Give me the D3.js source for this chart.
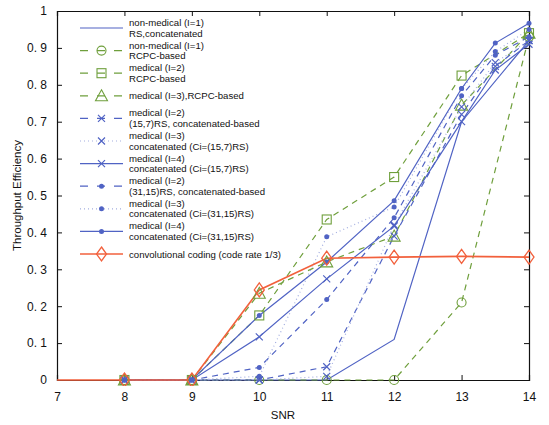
<!DOCTYPE html>
<html>
<head>
<meta charset="utf-8">
<script src="https://cdn.jsdelivr.net/npm/d3@7"></script>
<style>
  body { margin: 0; background: #fff; }
  text { font-family: "Liberation Sans", Arial, sans-serif; fill: #111; }
</style>
</head>
<body>
<div id="chart"></div>
<script>
// data
const xTicks = [7, 8, 9, 10, 11, 12, 13, 14];
const yTicks = [0, 0.1, 0.2, 0.3, 0.4, 0.5, 0.6, 0.7, 0.8, 0.9, 1];
const yTickLabels = ["0", "0. 1", "0. 2", "0. 3", "0. 4", "0. 5", "0. 6", "0. 7", "0. 8", "0. 9", "1"];

const snrA = [8, 9, 10, 11, 12, 13, 14];
const snrB = [8, 9, 10, 11, 12, 13, 13.5, 14];
const snrConv = [7, 8, 9, 10, 11, 12, 13, 14];

const nonMedRS = [0, 0, 0, 0, 0.11, 0.70, 0.92];
const nonMedRCPC = [0, 0, 0, 0, 0, 0.21, 0.93];
const medI2RCPC = [0, 0, 0.175, 0.435, 0.55, 0.825, 0.94];
const medI3RCPC = [0, 0, 0.235, 0.32, 0.39, 0.745, 0.94];
const medI2RS157 = [0, 0, 0, 0.036, 0.39, 0.72, 0.85, 0.92];
const medI3RS157 = [0, 0, 0, 0.01, 0.42, 0.74, 0.86, 0.92];
const medI4RS157 = [0, 0, 0.117, 0.274, 0.417, 0.70, 0.84, 0.91];
const medI2RS3115 = [0, 0, 0.034, 0.218, 0.44, 0.77, 0.88, 0.93];
const medI3RS3115 = [0, 0, 0.01, 0.388, 0.469, 0.79, 0.89, 0.95];
const medI4RS3115 = [0, 0, 0.175, 0.32, 0.486, 0.79, 0.913, 0.967];
const convCoding = [0, 0, 0, 0.244, 0.33, 0.333, 0.335, 0.333];

const legendLabels = [
  ["non-medical (I=1)", "RS,concatenated"],
  ["non-medical (I=1)", "RCPC-based"],
  ["medical (I=2)", "RCPC-based"],
  ["medical (I=3),RCPC-based"],
  ["medical (I=2)", "(15,7)RS, concatenated-based"],
  ["medical (I=3)", "concatenated (Ci=(15,7)RS)"],
  ["medical (I=4)", "concatenated (Ci=(15,7)RS)"],
  ["medical (I=2)", "(31,15)RS, concatenated-based"],
  ["medical (I=3)", "concatenated (Ci=(31,15)RS)"],
  ["medical (I=4)", "concatenated (Ci=(31,15)RS)"],
  ["convolutional coding (code rate 1/3)"]
];

const blue = "#5063c4", green = "#6f9f3c", orange = "#f2603c";

const series = [
  {x: snrA, y: nonMedRS, color: blue, dash: null, marker: null},
  {x: snrA, y: nonMedRCPC, color: green, dash: "6,5", marker: "circle"},
  {x: snrA, y: medI2RCPC, color: green, dash: "6,5", marker: "square"},
  {x: snrA, y: medI3RCPC, color: green, dash: "6,5", marker: "triangle"},
  {x: snrB, y: medI2RS157, color: blue, dash: "6,5", marker: "x"},
  {x: snrB, y: medI3RS157, color: "#a3aee0", dash: "1,3", marker: "x"},
  {x: snrB, y: medI4RS157, color: blue, dash: null, marker: "x"},
  {x: snrB, y: medI2RS3115, color: blue, dash: "6,5", marker: "dot"},
  {x: snrB, y: medI3RS3115, color: "#a3aee0", dash: "1,3", marker: "dot"},
  {x: snrB, y: medI4RS3115, color: blue, dash: null, marker: "dot"},
  {x: snrConv, y: convCoding, color: orange, dash: null, marker: "diamond", width: 1.6}
];

const W = 549, H = 425;
const margin = {top: 11, right: 20, bottom: 45, left: 57};

const svg = d3.select("#chart").append("svg")
    .attr("width", W)
    .attr("height", H);

const x = d3.scaleLinear().domain([7, 14]).range([margin.left, W - margin.right]);
const y = d3.scaleLinear().domain([0, 1]).range([H - margin.bottom, margin.top]);

svg.append("clipPath").attr("id", "plotclip")
  .append("rect")
    .attr("x", x(7)).attr("y", y(1) - 6)
    .attr("width", x(14) - x(7) + 8).attr("height", y(0) - y(1) + 12);

// axes, matlab style ticks pointing inward
const axB = svg.append("g").attr("transform", `translate(0,${y(0)})`)
    .call(d3.axisBottom(x).tickValues(xTicks).tickSize(-5).tickPadding(12).tickFormat(d3.format("d")));
const axT = svg.append("g").attr("transform", `translate(0,${y(1)})`)
    .call(d3.axisTop(x).tickValues(xTicks).tickSize(-5).tickFormat(""));
const axL = svg.append("g").attr("transform", `translate(${x(7)},0)`)
    .call(d3.axisLeft(y).tickValues(yTicks).tickSize(-5).tickPadding(10)
      .tickFormat((d, i) => yTickLabels[i]));
const axR = svg.append("g").attr("transform", `translate(${x(14)},0)`)
    .call(d3.axisRight(y).tickValues(yTicks).tickSize(-5).tickFormat(""));

[axB, axT, axL, axR].forEach(a => {
  a.select(".domain").attr("stroke", "#111").attr("stroke-width", 1.2);
  a.selectAll(".tick line").attr("stroke", "#111");
  a.selectAll("text").style("font-size", "12px").style("font-family", "'Liberation Sans Narrow', 'Liberation Sans', sans-serif").attr("fill", "#111");
});

svg.append("text")
    .attr("transform", `translate(21,${(y(0) + y(1)) / 2}) rotate(-90)`)
    .attr("text-anchor", "middle")
    .style("font-size", "11.5px")
    .style("font-family", "'Liberation Sans Narrow', 'Liberation Sans', sans-serif")
    .text("Throughput Efficiency");

svg.append("text")
    .attr("x", (x(7) + x(14)) / 2 - 10)
    .attr("y", 419)
    .attr("text-anchor", "middle")
    .style("font-size", "11.5px")
    .style("font-family", "'Liberation Sans Narrow', 'Liberation Sans', sans-serif")
    .text("SNR");

function drawMarker(g, type, cx, cy, color) {
  if (type === "circle") {
    g.append("circle").attr("cx", cx).attr("cy", cy).attr("r", 4.5)
      .attr("fill", "none").attr("stroke", color).attr("stroke-width", 1.1);
  } else if (type === "square") {
    g.append("rect").attr("x", cx - 4.5).attr("y", cy - 4.5).attr("width", 9).attr("height", 9)
      .attr("fill", "none").attr("stroke", color).attr("stroke-width", 1.1);
  } else if (type === "triangle") {
    g.append("path").attr("d", `M${cx},${cy - 6}L${cx + 6},${cy + 5}L${cx - 6},${cy + 5}Z`)
      .attr("fill", "none").attr("stroke", color).attr("stroke-width", 1.1);
  } else if (type === "diamond") {
    g.append("path").attr("d", `M${cx},${cy - 7}L${cx + 5},${cy}L${cx},${cy + 7}L${cx - 5},${cy}Z`)
      .attr("fill", "none").attr("stroke", color).attr("stroke-width", 1.3);
  } else if (type === "x") {
    g.append("path").attr("d", `M${cx - 3.5},${cy - 3.5}L${cx + 3.5},${cy + 3.5}M${cx - 3.5},${cy + 3.5}L${cx + 3.5},${cy - 3.5}`)
      .attr("fill", "none").attr("stroke", blue).attr("stroke-width", 1.2);
  } else if (type === "dot") {
    g.append("circle").attr("cx", cx).attr("cy", cy).attr("r", 2.5).attr("fill", blue);
  }
}

const plot = svg.append("g").attr("clip-path", "url(#plotclip)");

series.forEach(s => {
  const pts = s.x.map((v, i) => [v, s.y[i]]);
  plot.append("path")
      .datum(pts)
      .attr("fill", "none")
      .attr("stroke", s.color)
      .attr("stroke-width", s.width || 1.2)
      .attr("stroke-dasharray", s.dash)
      .attr("d", d3.line().x(d => x(d[0])).y(d => y(d[1])));
});
series.forEach(s => {
  if (!s.marker) return;
  s.x.forEach((v, i) => {
    if (v > x.domain()[0]) drawMarker(plot, s.marker, x(v), y(s.y[i]), s.color);
  });
});

// legend
const legY0 = 28, legStep = 22.6;
const leg = svg.append("g");
legendLabels.forEach((lines, i) => {
  const s = series[i];
  const cy = legY0 + i * legStep;
  leg.append("line")
      .attr("x1", 80).attr("x2", 123).attr("y1", cy).attr("y2", cy)
      .attr("stroke", s.color)
      .attr("stroke-width", s.width || 1.2)
      .attr("stroke-dasharray", s.dash ? (s.dash === "1,3" ? "1,3" : "8,9") : null);
  if (s.marker) drawMarker(leg, s.marker, 101.5, cy, s.color);
  lines.forEach((ln, j) => {
    leg.append("text")
        .attr("x", 129)
        .attr("y", lines.length === 1 ? cy + 3.5 : cy - 2 + j * 10.6)
        .style("font-size", "9.6px")
        .text(ln);
  });
});
</script>
</body>
</html>
